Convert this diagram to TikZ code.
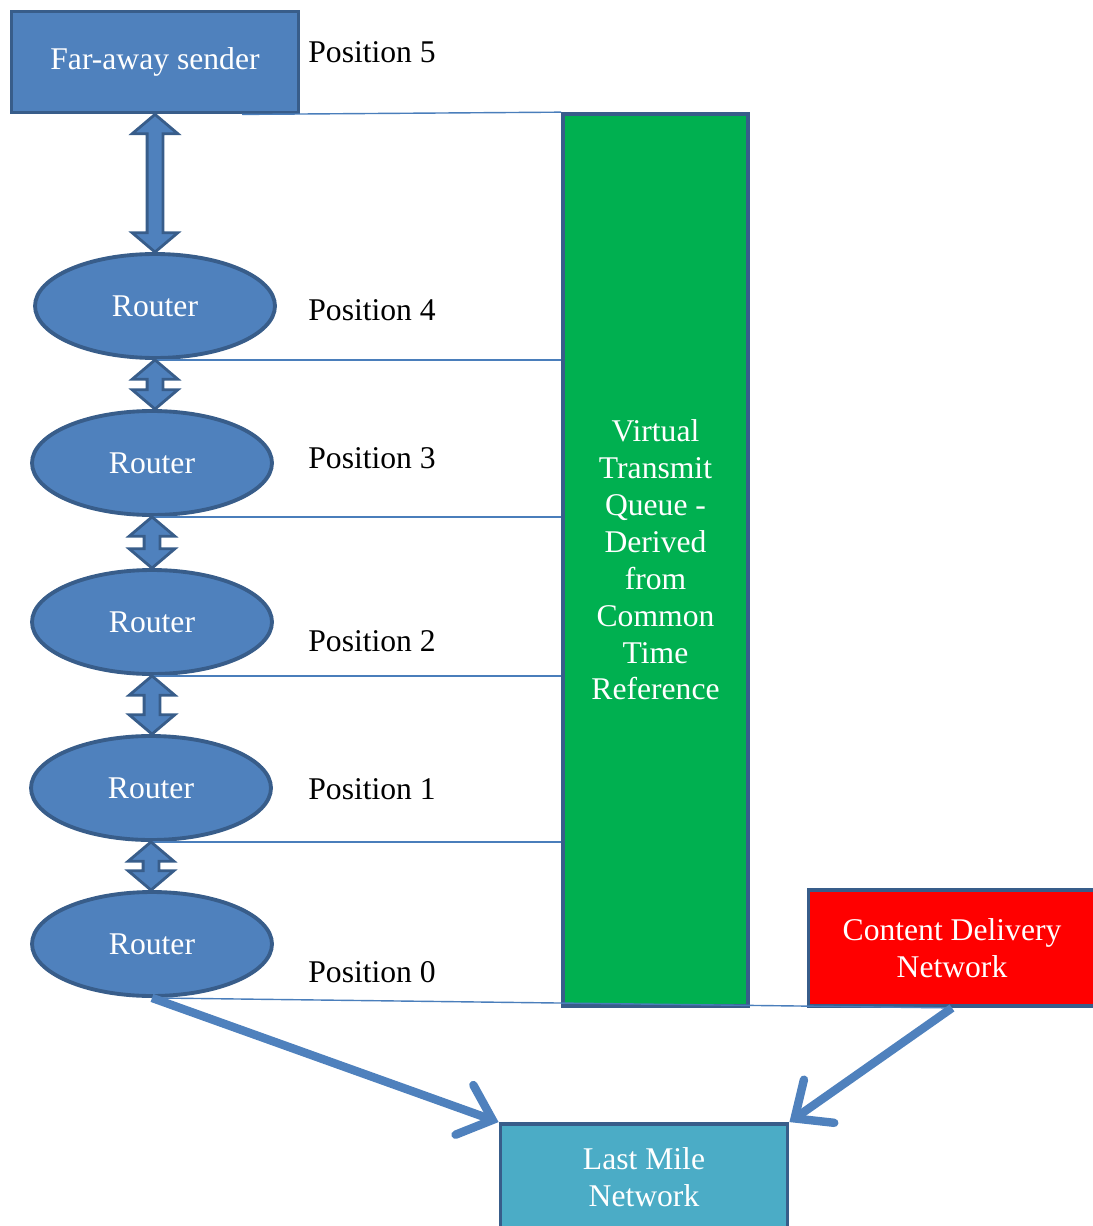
\documentclass[tikz,border=0pt]{standalone}
\usepackage{fontspec}
\setmainfont{Liberation Serif}
\usetikzlibrary{
    arrows.meta,
    positioning,
    calc,
    shapes.geometric
}
\definecolor{boxBlue}{RGB}{79,129,189}
\definecolor{boxEdge}{RGB}{56,93,138}
\definecolor{lineBlue}{RGB}{74,126,187}
\definecolor{queueGreen}{RGB}{0,176,80}
\definecolor{cdnRed}{RGB}{255,0,0}
\definecolor{mileCyan}{RGB}{75,172,198}
\tikzset{
  block/.style    = {draw=boxEdge, line width=2.2pt, fill=boxBlue, text=white,
                     minimum width=5.74cm, minimum height=2.02cm, align=center,
                     font=\fontsize{18}{21}\selectfont},
  router/.style   = {ellipse, draw=boxEdge, line width=2.2pt, fill=boxBlue,
                     text=white, minimum width=4.80cm, minimum height=2.08cm,
                     inner sep=0pt, font=\fontsize{18}{21}\selectfont},
  queue/.style    = {draw=boxEdge, line width=2.2pt, fill=queueGreen, text=white,
                     minimum width=3.70cm, minimum height=17.84cm, align=center,
                     font=\fontsize{18}{21}\selectfont},
  poslabel/.style = {anchor=west, inner sep=0pt, font=\fontsize{18}{21}\selectfont},
  posline/.style  = {lineBlue, line width=0.8pt},
  dblarr/.style   = {draw=boxEdge, fill=boxBlue, line width=1.6pt},
  fatarr/.style   = {-{Straight Barb[length=17pt,width=30pt,line cap=round]},
                     boxBlue, line width=4.8pt}
}
% two-headed block arrow between two stacked nodes
\newcommand{\dblarrow}[2]{%
  \draw[dblarr] let \p1=(#1.south), \p2=(#2.north) in
    (\x1,\y1) -- (\x1-13pt,\y1-11pt) -- (\x1-4.5pt,\y1-11pt)
    -- (\x1-4.5pt,\y2+11pt) -- (\x1-13pt,\y2+11pt) -- (\x1,\y2)
    -- (\x1+13pt,\y2+11pt) -- (\x1+4.5pt,\y2+11pt)
    -- (\x1+4.5pt,\y1-11pt) -- (\x1+13pt,\y1-11pt) -- cycle;}

\begin{document}
\begin{tikzpicture}[x=0.02cm, y=-0.02cm]
    \useasboundingbox (0,0) rectangle (1092,1226);

    \node[block] (sender) at (155,62) {Far-away sender};
    \node[router] (r4) at (155,306) {Router};
    \node[router] (r3) at (152,463) {Router};
    \node[router] (r2) at (152,622) {Router};
    \node[router] (r1) at (151,788) {Router};
    \node[router] (r0) at (152,944) {Router};

    \node[queue] (vtq) at (655.5,560)
        {Virtual\\Transmit\\Queue -\\Derived\\from\\Common\\Time\\Reference};
    \node[block, fill=cdnRed, minimum height=2.32cm] (cdn) at (952,948)
        {Content Delivery\\Network};
    \node[block, fill=mileCyan, minimum height=2.12cm] (mile) at (644,1177)
        {Last Mile\\Network};

    \node[poslabel] (pos5) at (308,52) {Position 5};
    \node[poslabel] (pos4) at (308,310) {Position 4};
    \node[poslabel] (pos3) at (308,458) {Position 3};
    \node[poslabel] (pos2) at (308,641) {Position 2};
    \node[poslabel] (pos1) at (308,789) {Position 1};
    \node[poslabel] (pos0) at (308,972) {Position 0};

    % position lines to the queue
    \draw[posline] ($(sender.south)!0.6!(sender.south east)$) -- (vtq.north west);
    \foreach \r in {r4,r3,r2,r1}
        \draw[posline] (\r.south) -- (\r.south -| vtq.west);
    \draw[posline] (r0.south) -- (cdn.south);

    \foreach \a/\b in {sender/r4, r4/r3, r3/r2, r2/r1, r1/r0}
        \dblarrow{\a}{\b};

    \draw[fatarr] (r0.south) -- (mile.north west);
    \draw[fatarr] (cdn.south) -- (mile.north east);
\end{tikzpicture}
\end{document}
